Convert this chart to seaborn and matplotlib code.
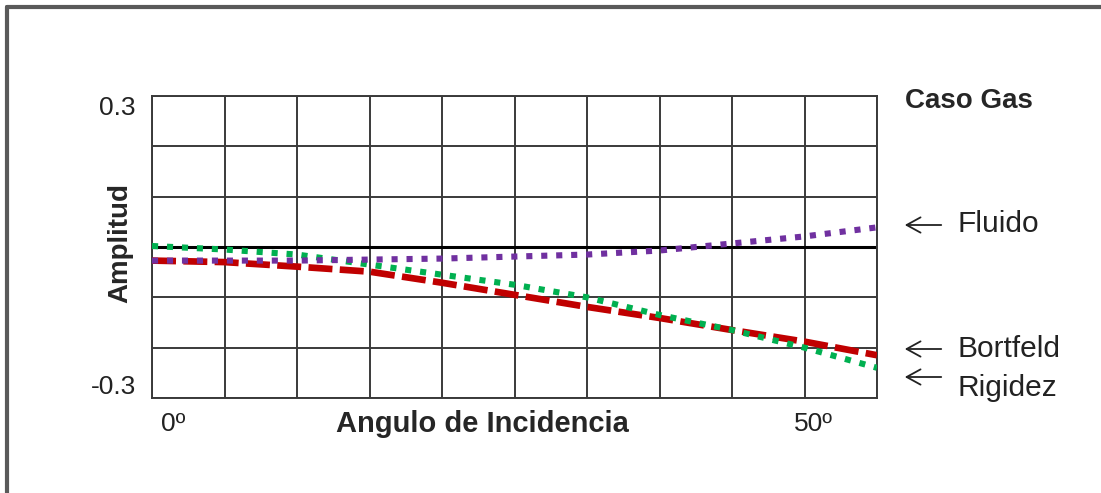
import numpy as np
import pandas as pd
import seaborn as sns
import matplotlib.pyplot as plt
from matplotlib.lines import Line2D

# angle of incidence (degrees) and amplitude
angulo = [0, 5, 10, 15, 20, 25, 30, 35, 40, 45, 50]
rigidez = [0.002, -0.005, -0.015, -0.035, -0.055, -0.075, -0.10, -0.135, -0.165, -0.20, -0.24]
bortfeld = [-0.027, -0.030, -0.039, -0.049, -0.071, -0.095, -0.119, -0.141, -0.165, -0.188, -0.215]
fluido = [-0.027, -0.027, -0.027, -0.025, -0.023, -0.019, -0.015, -0.007, 0.007, 0.021, 0.039]

df = pd.DataFrame({
    "angulo": angulo * 3,
    "amplitud": rigidez + bortfeld + fluido,
    "serie": ["Rigidez"] * 11 + ["Bortfeld"] * 11 + ["Fluido"] * 11,
})

sns.set_style("white")
plt.rcParams["font.family"] = ["Liberation Sans", "DejaVu Sans"]

W, H = 1101, 493
fig = plt.figure(figsize=(W / 100, H / 100), dpi=100)
ax = fig.add_axes([152 / W, 95 / H, 725 / W, 302 / H])


def fx(px):
    return px / W


def fy(py):
    return 1 - py / H


# grid
for x in range(0, 55, 5):
    ax.axvline(x, color="#3a3a3a", lw=1.4, zorder=1)
for y in np.arange(-0.3, 0.31, 0.1):
    ax.axhline(y, color="#3a3a3a", lw=1.4, zorder=1)
ax.axhline(0, color="black", lw=2.2, zorder=2)

pal = {"Rigidez": "#00B050", "Bortfeld": "#C00000", "Fluido": "#7030A0"}
sns.lineplot(data=df[df.serie == "Bortfeld"], x="angulo", y="amplitud", color=pal["Bortfeld"],
             lw=4.8, ax=ax, zorder=3, legend=False)
sns.lineplot(data=df[df.serie == "Rigidez"], x="angulo", y="amplitud", color=pal["Rigidez"],
             lw=4.4, ax=ax, zorder=4, legend=False)
sns.lineplot(data=df[df.serie == "Fluido"], x="angulo", y="amplitud", color=pal["Fluido"],
             lw=4.4, ax=ax, zorder=5, legend=False)
ax.lines[-3].set_dashes([3.6, 1.1])
ax.lines[-2].set_dashes([1, 1.45])
ax.lines[-1].set_dashes([1, 1.45])

ax.set_xlim(0, 50)
ax.set_ylim(-0.3, 0.3)
ax.set_xticks([])
ax.set_yticks([])
ax.set_xlabel("")
ax.set_ylabel("")
for s in ax.spines.values():
    s.set_color("#3a3a3a")
    s.set_linewidth(1.4)

# axis texts
fig.text(fx(136), fy(108), "0.3", fontsize=19, color="#222222", ha="right", va="center")
fig.text(fx(136), fy(387), "-0.3", fontsize=19, color="#222222", ha="right", va="center")
fig.text(fx(120), fy(243), "Amplitud", fontsize=20, fontweight="bold", rotation=90,
         ha="center", va="center")
fig.text(fx(161), fy(424), "0º", fontsize=19, color="#222222", va="center")
fig.text(fx(794), fy(424), "50º", fontsize=19, color="#222222", va="center")
fig.text(fx(482), fy(424), "Angulo de Incidencia", fontsize=21, fontweight="bold",
         ha="center", va="center")

# labels on the right
fig.text(fx(905), fy(101), "Caso Gas", fontsize=20, fontweight="bold", va="center")
for name, ypx, arrow_y in [("Fluido", 224, 225), ("Bortfeld", 349, 349), ("Rigidez", 388, 377)]:
    fig.text(fx(957), fy(ypx), name, fontsize=21.5, color="#222222", va="center")
    ax.annotate("", xy=(fx(902), fy(arrow_y)), xytext=(fx(944), fy(arrow_y)),
                xycoords="figure fraction", textcoords="figure fraction",
                arrowprops=dict(arrowstyle="->,head_length=1.0,head_width=0.55", color="#222222", lw=1.3),
                annotation_clip=False)

# outer frame (top and left only)
fig.add_artist(Line2D([fx(7), 1], [fy(7), fy(7)], color="#5a5a5a", lw=3))
fig.add_artist(Line2D([fx(7), fx(7)], [0, fy(7)], color="#5a5a5a", lw=3))

fig.savefig("out.png", dpi=100)
